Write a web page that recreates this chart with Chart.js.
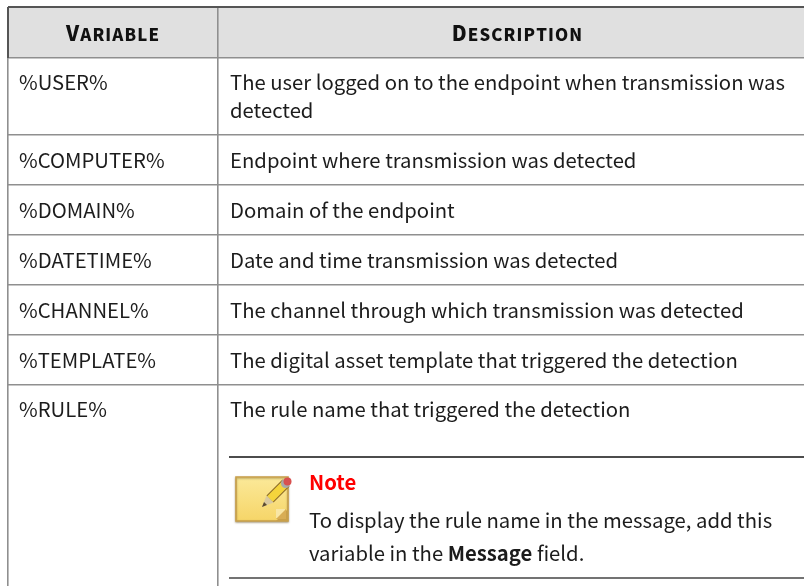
<!DOCTYPE html>
<html>
<head>
<meta charset="utf-8">
<style>html,body{margin:0;padding:0;background:#fff;overflow:hidden}canvas{display:block}</style>
<script src="https://cdn.jsdelivr.net/npm/chart.js@4"></script>
</head>
<body>
<canvas id="c" width="804" height="586"></canvas>
<script>
const FONT = '"Noto Sans CJK JP"';
const headers = ['Variable', 'Description'];
const variables = ['%USER%', '%COMPUTER%', '%DOMAIN%', '%DATETIME%', '%CHANNEL%', '%TEMPLATE%', '%RULE%'];
const descriptions = [
  ['The user logged on to the endpoint when transmission was', 'detected'],
  ['Endpoint where transmission was detected'],
  ['Domain of the endpoint'],
  ['Date and time transmission was detected'],
  ['The channel through which transmission was detected'],
  ['The digital asset template that triggered the detection'],
  ['The rule name that triggered the detection']
];
const rowBaselines = [90, 168, 218, 267.5, 317.5, 367.5, 417];
const rowEdges = [7, 58, 135, 185, 235, 285, 335, 385];
const colEdges = [8, 218];
const headerCentres = [113, 517.5];
const noteRules = [457, 578];
const noteTitle = 'Note';
const noteLine1 = 'To display the rule name in the message, add this';
const noteLine2 = [['variable in the ', false], ['Message', true], [' field.', false]];

function smallCaps(ctx, text, cx, y) {
  const parts = text.split('').map((ch, i) => ({
    ch: ch.toUpperCase(),
    font: (i === 0 ? '900 20.5px ' : '900 16.8px ') + FONT
  }));
  const sp = 1.1;
  let w = 0;
  parts.forEach(p => { ctx.font = p.font; p.w = ctx.measureText(p.ch).width + sp; w += p.w; });
  let x = cx - w / 2;
  parts.forEach(p => { ctx.font = p.font; ctx.fillText(p.ch, x, y); x += p.w; });
}

function drawIcon(ctx, X, Y) {
  const l = X(236), r = X(288), t = Y(477), b = Y(521);
  ctx.save();
  ctx.shadowColor = 'rgba(90,70,20,0.45)';
  ctx.shadowBlur = 2; ctx.shadowOffsetY = 1;
  const g = ctx.createLinearGradient(0, t, 0, b);
  g.addColorStop(0, '#fbe999'); g.addColorStop(1, '#f6d568');
  ctx.fillStyle = g;
  ctx.strokeStyle = '#c9a04a'; ctx.lineWidth = 1.6;
  ctx.beginPath();
  ctx.moveTo(l, t); ctx.lineTo(r, t); ctx.lineTo(r, b); ctx.lineTo(l, b); ctx.closePath();
  ctx.fill(); ctx.stroke();
  ctx.restore();
  // folded corner
  ctx.fillStyle = '#c9a04a';
  ctx.beginPath(); ctx.moveTo(r, b - 12); ctx.lineTo(r, b); ctx.lineTo(r - 12, b); ctx.closePath(); ctx.fill();
  ctx.fillStyle = '#f8e6a5';
  ctx.fillRect(r - 12, b - 12, 9, 9);
  ctx.fillStyle = '#d8ad55';
  ctx.beginPath(); ctx.moveTo(r - 2, b - 12); ctx.lineTo(r - 12, b - 2); ctx.lineTo(r - 2, b - 2); ctx.closePath(); ctx.fill();
  // pencil
  ctx.lineCap = 'butt';
  ctx.strokeStyle = '#8a6a28'; ctx.lineWidth = 10;
  ctx.beginPath(); ctx.moveTo(X(270), Y(499)); ctx.lineTo(X(286), Y(483)); ctx.stroke();
  ctx.strokeStyle = '#f4d43c'; ctx.lineWidth = 8;
  ctx.beginPath(); ctx.moveTo(X(270), Y(499)); ctx.lineTo(X(286), Y(483)); ctx.stroke();
  ctx.fillStyle = '#d9c9a0';
  ctx.beginPath(); ctx.moveTo(X(262), Y(507)); ctx.lineTo(X(266.5), Y(495.5)); ctx.lineTo(X(273.5), Y(502.5)); ctx.closePath(); ctx.fill();
  ctx.fillStyle = '#5a4a30';
  ctx.beginPath(); ctx.moveTo(X(262), Y(507)); ctx.lineTo(X(264), Y(502)); ctx.lineTo(X(267), Y(505)); ctx.closePath(); ctx.fill();
  ctx.fillStyle = '#a8a8a8';
  ctx.beginPath(); ctx.arc(X(285.5), Y(483.5), 4.5, 0, 7); ctx.fill();
  ctx.fillStyle = '#d8504f';
  ctx.beginPath(); ctx.arc(X(287.5), Y(481.5), 4, 0, 7); ctx.fill();
}

const tablePlugin = {
  id: 'table',
  beforeDraw(chart) {
    const ctx = chart.ctx, sx = chart.scales.x, sy = chart.scales.y;
    const X = v => sx.getPixelForValue(v), Y = v => sy.getPixelForValue(v);
    ctx.save();
    ctx.fillStyle = '#e0e0e0';
    ctx.fillRect(X(colEdges[0]), Y(rowEdges[0]), X(804) - X(colEdges[0]), Y(rowEdges[1]) - Y(rowEdges[0]));
    ctx.restore();
  },
  afterDatasetsDraw(chart) {
    const ctx = chart.ctx, sx = chart.scales.x, sy = chart.scales.y;
    const X = v => sx.getPixelForValue(v), Y = v => sy.getPixelForValue(v);
    ctx.save();
    ctx.textBaseline = 'alphabetic';
    ctx.textAlign = 'left';
    ctx.fillStyle = '#111';
    headers.forEach((h, i) => smallCaps(ctx, h, X(headerCentres[i]), Y(40.5)));
    ctx.fillStyle = '#1c1c1c';
    ctx.font = '20.3px ' + FONT;
    variables.forEach((v, i) => ctx.fillText(v, X(19), Y(rowBaselines[i])));
    descriptions.forEach((lines, i) => lines.forEach((t, j) => ctx.fillText(t, X(230), Y(rowBaselines[i] + j * 28))));
    ctx.fillText(noteLine1, X(309), Y(528));
    let x = X(309);
    noteLine2.forEach(([t, bold]) => {
      ctx.font = (bold ? 'bold ' : '') + '20.3px ' + FONT;
      ctx.fillText(t, x, Y(560.5));
      x += ctx.measureText(t).width;
    });
    ctx.fillStyle = '#ff0000';
    ctx.font = 'bold 20.3px ' + FONT;
    ctx.fillText(noteTitle, X(309), Y(490));
    drawIcon(ctx, X, Y);
    ctx.restore();
  }
};

const ruleDataset = (x0, y0, x1, y1, color, width) => ({
  type: 'line',
  data: [{ x: x0, y: y0 }, { x: x1, y: y1 }],
  borderColor: color, borderWidth: width, pointRadius: 0, showLine: true, fill: false, clip: false
});

new Chart(document.getElementById('c'), {
  type: 'scatter',
  data: { datasets: [
    ruleDataset(229, noteRules[0], 804, noteRules[0], '#111111', 1.5),
    ruleDataset(229, noteRules[1], 804, noteRules[1], '#444444', 1.5),
    ruleDataset(colEdges[0], rowEdges[0], colEdges[0], rowEdges[1], '#555555', 2)
  ] },
  options: {
    responsive: false, animation: false, events: [],
    layout: { padding: { left: colEdges[0], top: rowEdges[0], right: 0, bottom: 0 } },
    plugins: { legend: { display: false }, tooltip: { enabled: false }, title: { display: false } },
    scales: {
      x: {
        type: 'linear', min: colEdges[0], max: 804,
        afterBuildTicks: a => { a.ticks = colEdges.map(value => ({ value })); },
        ticks: { display: false },
        border: { display: false },
        grid: { color: '#8f8f8f', lineWidth: 1.6, drawTicks: false }
      },
      y: {
        type: 'linear', min: rowEdges[0], max: 586, reverse: true,
        afterBuildTicks: a => { a.ticks = rowEdges.map(value => ({ value })); },
        ticks: { display: false },
        border: { display: false },
        grid: {
          color: c => c.index === 0 ? '#555555' : '#8f8f8f',
          lineWidth: c => c.index === 0 ? 2 : 1.4,
          drawTicks: false
        }
      }
    }
  },
  plugins: [tablePlugin]
});
</script>
</body>
</html>
